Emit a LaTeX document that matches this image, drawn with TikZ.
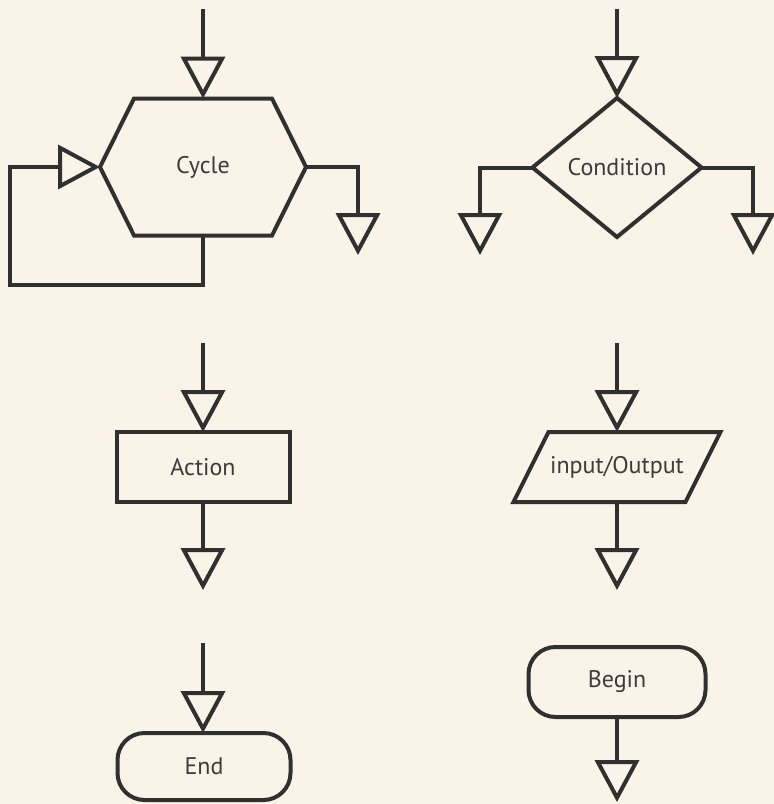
\documentclass[tikz,border=0pt]{standalone}
\usepackage{fontspec}
\setmainfont{PT Sans}
\usetikzlibrary{arrows.meta,shapes.geometric}
\definecolor{bg}{HTML}{FAF3E8}
\definecolor{ink}{HTML}{303030}
\definecolor{txt}{HTML}{3C3C3C}
\begin{document}
\begin{tikzpicture}[x=1pt,y=-1pt,
  lbl/.style={font=\fontsize{24}{28}\selectfont, text=txt, inner sep=0pt, outer sep=0pt},
  outline/.style={draw=ink, line width=4pt, line join=miter},
  flow/.style={draw=ink, line width=4pt, line join=miter,
    -{Triangle[open, length=42pt, width=44pt, fill=bg]}},
  plainbox/.style={lbl, rectangle},
  boxshape/.style={lbl, outline, rectangle},
  roundshape/.style={lbl, outline, rectangle, rounded corners=27pt},
  decision/.style={lbl, outline, diamond}]
\fill[bg] (0,0) rectangle (774,804);
\useasboundingbox (0,0) rectangle (774,804);

% ---- Cycle (hexagon) ----
\node[plainbox, minimum width=206pt, minimum height=137pt] (cyc) at (203,167) {Cycle};
\draw[outline] (cyc.west) -- ([xshift=34pt]cyc.north west) -- ([xshift=-34pt]cyc.north east)
  -- (cyc.east) -- ([xshift=-34pt]cyc.south east) -- ([xshift=34pt]cyc.south west) -- cycle;
\coordinate (cycin) at (203,9);
\coordinate (loopc) at (10,285);
\coordinate (cycout) at (358,255);
\draw[flow] (cycin) -- (cyc.north);
\draw[flow] (cyc.south) |- (loopc) |- (cyc.west);
\draw[flow] (cyc.east) -| (cycout);

% ---- Condition (diamond) ----
\node[decision, minimum width=169pt, minimum height=139pt] (cond) at (617,167.5) {Condition};
\coordinate (condin) at (617,9);
\coordinate (condl) at (480,255);
\coordinate (condr) at (753,255);
\draw[flow] (condin) -- (cond.north);
\draw[flow] (cond.west) -| (condl);
\draw[flow] (cond.east) -| (condr);

% ---- Action ----
\node[boxshape, minimum width=173pt, minimum height=70pt] (act) at (203,467) {Action};
\coordinate (actin) at (203,343);
\coordinate (actout) at (203,590);
\draw[flow] (actin) -- (act.north);
\draw[flow] (act.south) -- (actout);

% ---- input/Output (parallelogram) ----
\node[plainbox, minimum width=207pt, minimum height=70pt] (io) at (617,467) {input/Output};
\draw[outline] (io.south west) -- ([xshift=35pt]io.north west) -- (io.north east)
  -- ([xshift=-35pt]io.south east) -- cycle;
\coordinate (ioin) at (617,343);
\coordinate (ioout) at (617,590);
\draw[flow] (ioin) -- (io.north);
\draw[flow] (io.south) -- (ioout);

% ---- End ----
\node[roundshape, minimum width=173pt, minimum height=67pt] (endn) at (204,766.5) {End};
\coordinate (endin) at (203,643);
\draw[flow] (endin) -- (endin |- endn.north);

% ---- Begin ----
\node[roundshape, minimum width=177pt, minimum height=70pt] (beg) at (617,682) {Begin};
\coordinate (begout) at (617,802);
\draw[flow] (beg.south) -- (begout);
\end{tikzpicture}
\end{document}
